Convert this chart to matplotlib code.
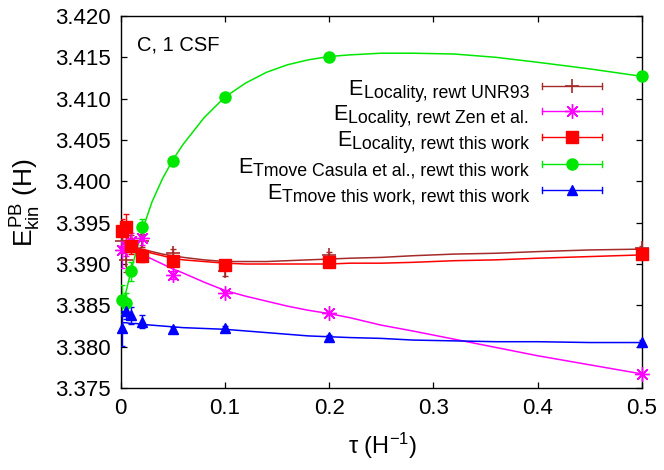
import matplotlib
matplotlib.use('Agg')
import matplotlib.pyplot as plt
from matplotlib.lines import Line2D

plt.rcParams['font.family'] = ['Liberation Sans', 'DejaVu Sans']
plt.rcParams['mathtext.fontset'] = 'custom'
plt.rcParams['mathtext.rm'] = 'Liberation Sans'
plt.rcParams['mathtext.it'] = 'Liberation Sans'
plt.rcParams['mathtext.bf'] = 'Liberation Sans:bold'

# ---------------- data ----------------
tau = [0.001, 0.005, 0.01, 0.02, 0.05, 0.1, 0.2, 0.5]

loc_unr93 = [3.3928, 3.3905, 3.3925, 3.3928, 3.3913, 3.3891, 3.3911, 3.3919]
loc_unr93_err = [0.0015, 0.0015, 0.0010, 0.0008, 0.0005, 0.0005, 0.0004, 0.0003]
loc_zen = [3.3917, 3.3922, 3.3928, 3.3931, 3.3887, 3.3865, 3.3841, 3.3767]
loc_zen_err = [0.0022, 0.0012, 0.0010, 0.0008, 0.0005, 0.0003, 0.0002, 0.0002]
loc_this = [3.3940, 3.3945, 3.3922, 3.3910, 3.3904, 3.3899, 3.3902, 3.3912]
loc_this_err = [0.0015, 0.0016, 0.0010, 0.0008, 0.0004, 0.0003, 0.0003, 0.0002]
tm_casula = [3.3857, 3.3853, 3.3891, 3.3945, 3.4024, 3.4102, 3.4150, 3.4127]
tm_casula_err = [0.0018, 0.0012, 0.0012, 0.0010, 0.0003, 0.0002, 0.0002, 0.0002]
tm_this = [3.3822, 3.3843, 3.3838, 3.3830, 3.3821, 3.3823, 3.3812, 3.3806]
tm_this_err = [0.0021, 0.0010, 0.0010, 0.0008, 0.0003, 0.0002, 0.0002, 0.0002]

# fitted curves
fit_tau = [0.0, 0.005, 0.01, 0.015, 0.02, 0.03, 0.04, 0.05, 0.06, 0.08, 0.1,
           0.12, 0.14, 0.16, 0.18, 0.2, 0.22, 0.25, 0.28, 0.32, 0.36, 0.4, 0.45, 0.5]
fit_unr93 = [3.3926, 3.3924, 3.3922, 3.3920, 3.3918, 3.3915, 3.3912, 3.3910,
             3.3908, 3.3905, 3.3903, 3.3903, 3.3903, 3.3904, 3.3905, 3.3906,
             3.3907, 3.3908, 3.3910, 3.3912, 3.3913, 3.3915, 3.3917, 3.3918]
fit_zen = [3.3926, 3.3923, 3.3919, 3.3916, 3.3912, 3.3906, 3.3900, 3.3894,
           3.3889, 3.3878, 3.3868, 3.3861, 3.3855, 3.3849, 3.3844, 3.3840,
           3.3835, 3.3826, 3.3819, 3.3809, 3.3799, 3.3789, 3.3778, 3.3767]
fit_this = [3.3926, 3.3924, 3.3921, 3.3919, 3.3917, 3.3913, 3.3910, 3.3907,
            3.3905, 3.3903, 3.3901, 3.3900, 3.3900, 3.3900, 3.3900, 3.3900,
            3.3901, 3.3901, 3.3902, 3.3904, 3.3905, 3.3907, 3.3909, 3.3911]
fit_casula = [3.3838, 3.3866, 3.3892, 3.3916, 3.3938, 3.3975, 3.4003, 3.4026,
              3.4045, 3.4077, 3.4102, 3.4119, 3.4132, 3.4141, 3.4147, 3.4151,
              3.4153, 3.4155, 3.4155, 3.4154, 3.4150, 3.4144, 3.4136, 3.4127]
fit_tm_this = [3.3829, 3.3829, 3.3828, 3.3828, 3.3827, 3.3826, 3.3825, 3.3824,
               3.3823, 3.3822, 3.3821, 3.3819, 3.3817, 3.3815, 3.3813, 3.3812,
               3.3811, 3.3810, 3.3808, 3.3807, 3.3806, 3.3806, 3.3805, 3.3805]

labels_sub = ['Locality, rewt UNR93', 'Locality, rewt Zen et al.',
              'Locality, rewt this work', 'Tmove Casula et al., rewt this work',
              'Tmove this work, rewt this work']

xticks = [0, 0.1, 0.2, 0.3, 0.4, 0.5]
xticklabels = ['0', '0.1', '0.2', '0.3', '0.4', '0.5']
yticks = [3.375, 3.380, 3.385, 3.390, 3.395, 3.400, 3.405, 3.410, 3.415, 3.420]

# ---------------- styles ----------------
colors = ['#a52a2a', '#ff00ff', '#ff0000', '#00e800', '#0000ff']
markers = ['+', (8, 2, 0), 's', 'o', '^']
msizes = [10, 10.5, 8, 8, 7.5]
mews = [1.2, 1.0, 1.0, 1.0, 1.0]

series = [(loc_unr93, loc_unr93_err, fit_unr93),
          (loc_zen, loc_zen_err, fit_zen),
          (loc_this, loc_this_err, fit_this),
          (tm_casula, tm_casula_err, fit_casula),
          (tm_this, tm_this_err, fit_tm_this)]

fig = plt.figure(figsize=(6.64, 4.70), dpi=100)
ax = fig.add_axes([120.7 / 664, 1 - 388 / 470, (642 - 120.7) / 664, 372 / 470])

for (vals, errs, fit), c, m, ms, mew in zip(series, colors, markers, msizes, mews):
    ax.plot(fit_tau, fit, color=c, lw=1.1, zorder=2)
    ax.errorbar(tau, vals, yerr=errs, fmt='none', ecolor=c, elinewidth=1.0,
                capsize=2.5, capthick=1.0, zorder=3)
    ax.plot(tau, vals, linestyle='none', marker=m, markersize=ms, color=c,
            markeredgecolor=c, markeredgewidth=mew, clip_on=False, zorder=4)

ax.set_xlim(0, 0.5)
ax.set_ylim(3.375, 3.420)
ax.set_xticks(xticks)
ax.set_xticklabels(xticklabels)
ax.set_yticks(yticks)
ax.set_yticklabels(['%.3f' % v for v in yticks])
ax.tick_params(direction='in', length=4.5, width=0.9, top=True, right=True,
               labelsize=16, pad=7, colors='black')
for s in ax.spines.values():
    s.set_linewidth(1.0)

ax.text(0.031, 0.922, 'C, 1 CSF', transform=ax.transAxes, fontsize=14.5,
        ha='left', va='center')

# ---------------- manual gnuplot-style key ----------------
row_y = [85.7, 111.0, 137.3, 164.0, 190.0]
x0 = (542 - 120.7) / 521.3
x1 = (602 - 120.7) / 521.3
xm = (x0 + x1) / 2
xt = (529 - 120.7) / 521.3
for yp, c, m, ms, mew, sub in zip(row_y, colors, markers, msizes, mews, labels_sub):
    ya = (388 - yp) / 372
    ax.add_line(Line2D([x0, x1], [ya, ya], transform=ax.transAxes, color=c,
                       lw=1.0, clip_on=False))
    for xx in (x0, x1):
        ax.add_line(Line2D([xx, xx], [ya - 0.008, ya + 0.008], transform=ax.transAxes,
                           color=c, lw=1.0, clip_on=False))
    ax.add_line(Line2D([xm], [ya], transform=ax.transAxes, color=c, marker=m,
                       markersize=ms, markeredgewidth=mew, linestyle='none',
                       clip_on=False))
    tsub = ax.text(xt, ya - 12 / 372, sub, transform=ax.transAxes, fontsize=12.8,
                   ha='right', va='baseline')
    ax.annotate('E', xy=(0, 0), xycoords=tsub, xytext=(-0.5, 5.0),
                textcoords='offset points', fontsize=15.5, ha='right', va='baseline')

# ---------------- axis labels ----------------
fig.text(26 / 664, 1 - 202 / 470, r'$E^{\mathrm{PB}}_{\mathrm{kin}}$ (H)', rotation=90,
         fontsize=19, ha='center', va='center')
fig.text(383 / 664, 1 - 446 / 470, r'τ (H$^{\mathrm{-1}}$)', fontsize=17,
         ha='center', va='center')

fig.savefig('out.png', dpi=100)
